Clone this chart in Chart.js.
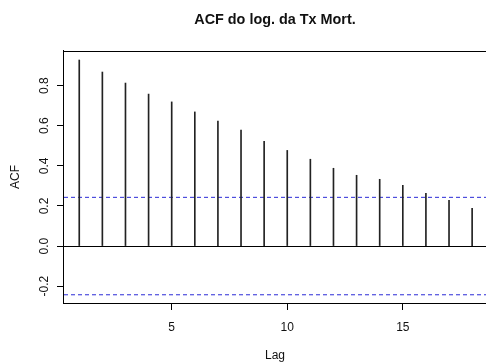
<!DOCTYPE html>
<html>
<head>
<meta charset="utf-8">
<title>ACF do log. da Tx Mort.</title>
<script src="https://cdn.jsdelivr.net/npm/chart.js@4"></script>
<style>
  body { margin: 0; background: #fff; }
</style>
</head>
<body>
<canvas id="acfChart" width="486" height="363"></canvas>
<script>
// dados do grafico
const lags = [1, 2, 3, 4, 5, 6, 7, 8, 9, 10, 11, 12, 13, 14, 15, 16, 17, 18];
const acfVals = [0.928, 0.868, 0.813, 0.758, 0.719, 0.669, 0.623, 0.579, 0.522, 0.477,
                 0.433, 0.388, 0.353, 0.333, 0.303, 0.263, 0.228, 0.188];
const ciLimit = [0.243, -0.243];
const xTicks = [5, 10, 15];
const yTicks = [-0.2, 0.0, 0.2, 0.4, 0.6, 0.8];

// limites dos eixos (a direita o quadro fica cortado)
const xMin = 0.34, xMax = 18.6;
const yMin = -0.284, yMax = 0.973;

const fontName = "'Liberation Sans', Arial, sans-serif";
const ink = "#111";

// linha de cima do quadro
const topBorder = {
  id: "topBorder",
  afterDraw(chart) {
    const a = chart.chartArea;
    const c = chart.ctx;
    c.save();
    c.strokeStyle = "#000";
    c.lineWidth = 1;
    c.beginPath();
    c.moveTo(a.left, Math.round(a.top) + 0.5);
    c.lineTo(a.right, Math.round(a.top) + 0.5);
    c.stroke();
    c.restore();
  }
};

// bandas de confianca (tracejado azul)
const ciSets = ciLimit.map(function (v) {
  return {
    type: "line",
    data: [{ x: xMin, y: v }, { x: xMax, y: v }],
    borderColor: "#2b2bd6",
    borderWidth: 1,
    borderDash: [4, 3],
    pointRadius: 0,
    fill: false
  };
});

new Chart(document.getElementById("acfChart"), {
  type: "bar",
  data: {
    datasets: [
      {
        data: lags.map(function (l, i) { return { x: l, y: acfVals[i] }; }),
        backgroundColor: "#222",
        borderWidth: 0,
        barThickness: 1
      }
    ].concat(ciSets)
  },
  options: {
    responsive: false,
    animation: false,
    devicePixelRatio: 1,
    layout: { padding: 0 },
    plugins: {
      legend: { display: false },
      tooltip: { enabled: false },
      title: {
        display: true,
        text: "ACF do log. da Tx Mort.",
        color: ink,
        fullSize: false,
        font: { family: fontName, size: 14.4, weight: "bold" },
        padding: { top: 11, bottom: 22.7 }
      }
    },
    scales: {
      x: {
        type: "linear",
        min: xMin,
        max: xMax,
        offset: false,
        afterBuildTicks: function (s) { s.ticks = xTicks.map(function (v) { return { value: v }; }); },
        grid: { offset: false, drawOnChartArea: false, drawTicks: true, tickLength: 7, tickColor: "#000" },
        border: { display: true, color: "#000", width: 1 },
        ticks: { color: ink, font: { family: fontName, size: 12 }, padding: 10, maxRotation: 0 },
        title: { display: true, text: "Lag", color: ink, font: { family: fontName, size: 12 }, padding: { top: 4.2, bottom: 0 } }
      },
      y: {
        type: "linear",
        min: yMin,
        max: yMax,
        afterBuildTicks: function (s) { s.ticks = yTicks.map(function (v) { return { value: v }; }); },
        grid: {
          drawOnChartArea: true,
          tickLength: 7,
          tickColor: "#000",
          // so a linha do zero aparece dentro do grafico
          color: function (ctx) { return ctx.tick && ctx.tick.value === 0 ? "#000" : "rgba(0,0,0,0)"; }
        },
        border: { display: true, color: "#000", width: 1 },
        ticks: {
          color: ink,
          font: { family: fontName, size: 12 },
          minRotation: 90,
          maxRotation: 90,
          crossAlign: "center",
          padding: 2,
          callback: function (v) { return v.toFixed(1); }
        },
        title: { display: true, text: "ACF", color: ink, font: { family: fontName, size: 12 }, padding: { top: 8.5, bottom: 15.7 } }
      }
    }
  },
  plugins: [topBorder]
});
</script>
</body>
</html>
